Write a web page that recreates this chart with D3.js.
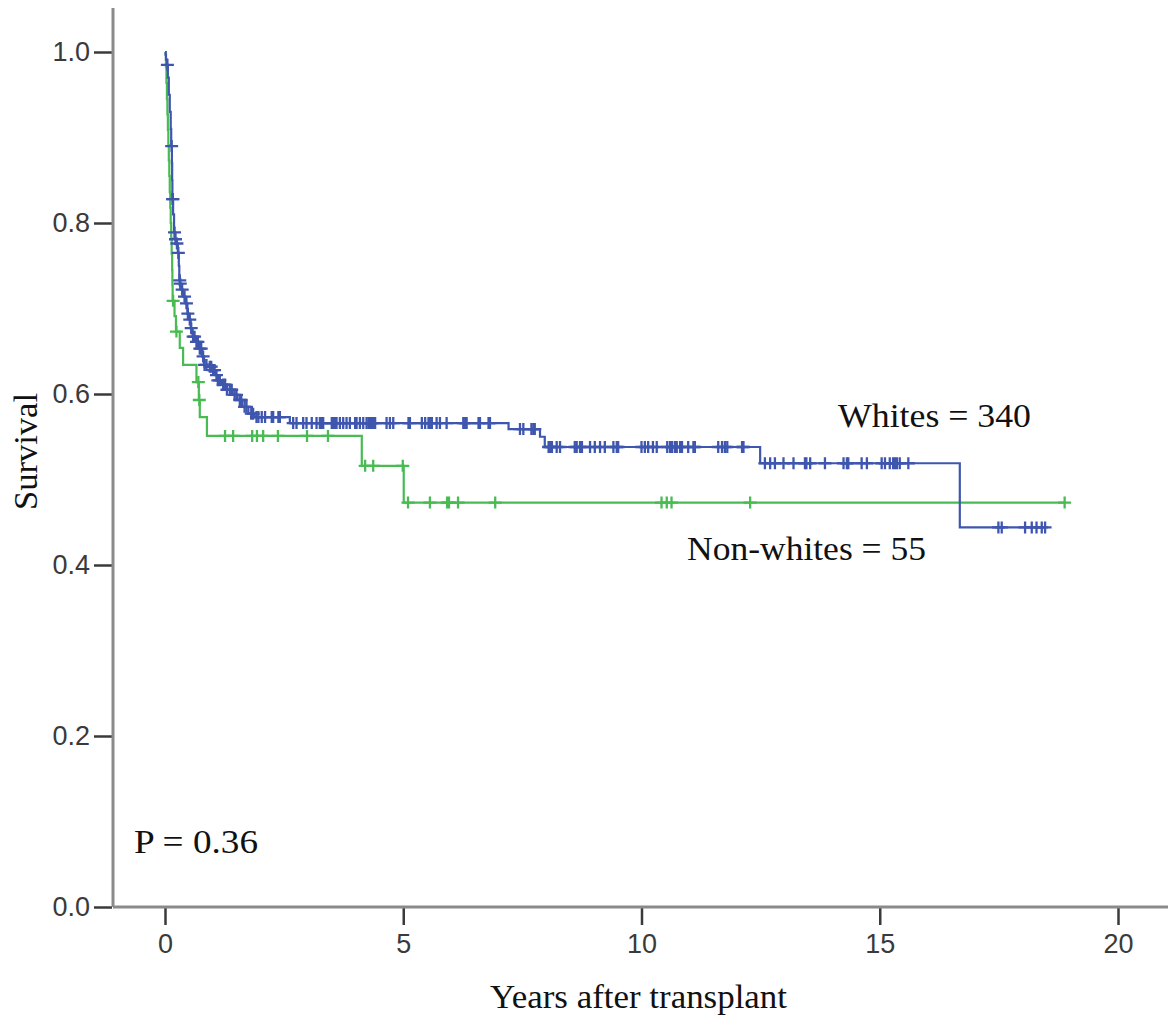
<!DOCTYPE html>
<html>
<head>
<meta charset="utf-8">
<script src="https://cdn.jsdelivr.net/npm/d3@7"></script>
<style>
  html, body { margin: 0; padding: 0; background: #fff; }
  svg { display: block; }
</style>
</head>
<body>
<svg id="chart" width="1176" height="1022"></svg>
<script>
// Kaplan–Meier survival after transplant, by race

// Axis ticks
const xTicks = [0, 5, 10, 15, 20];
const yTicks = [0.0, 0.2, 0.4, 0.6, 0.8, 1.0];

// Whites (n = 340): event times (years) and survival after each event
const whitesEventTime = [0.01, 0.02, 0.04, 0.06, 0.08, 0.10, 0.12, 0.13, 0.145, 0.15, 0.155,
  0.17, 0.19, 0.21, 0.24, 0.27, 0.29, 0.30, 0.315, 0.34, 0.38, 0.43, 0.47, 0.51, 0.54,
  0.58, 0.64, 0.71, 0.78, 0.82, 0.90, 0.98, 1.06, 1.10, 1.18, 1.30, 1.42, 1.52, 1.62,
  1.75, 1.88, 2.62, 7.21, 7.87, 7.97, 12.49, 16.68];
const whitesEventSurv = [0.997, 0.991, 0.985, 0.970, 0.950, 0.930, 0.910, 0.890, 0.870, 0.850, 0.828,
  0.810, 0.789, 0.781, 0.776, 0.765, 0.750, 0.733, 0.729, 0.722, 0.714, 0.706, 0.694, 0.687, 0.677,
  0.667, 0.661, 0.653, 0.644, 0.634, 0.632, 0.628, 0.622, 0.616, 0.611, 0.605, 0.599, 0.593, 0.585,
  0.577, 0.573, 0.566, 0.559, 0.550, 0.538, 0.519, 0.444];
// Whites: censored follow-up times (years)
const whitesCensored = [0.05, 0.14, 0.16, 0.165, 0.20, 0.22, 0.25, 0.28, 0.31, 0.32, 0.36, 0.41,
  0.45, 0.48, 0.52, 0.55, 0.59, 0.62, 0.66, 0.69, 0.73, 0.76, 0.80, 0.83, 0.87, 0.94, 0.97, 1.01,
  1.04, 1.08, 1.11, 1.15, 1.22, 1.26, 1.30, 1.36, 1.40, 1.46, 1.50, 1.57, 1.60, 1.67, 1.71, 1.81,
  1.85, 1.92, 1.96, 2.03, 2.10, 2.24, 2.27, 2.38, 2.41,
  2.69, 2.76, 2.90, 2.97, 3.08, 3.18, 3.25, 3.29, 3.32, 3.50, 3.53, 3.57, 3.60, 3.67, 3.74, 3.81,
  3.88, 3.99, 4.02, 4.09, 4.16, 4.23, 4.27, 4.30, 4.34, 4.37, 4.41, 4.65, 4.72, 4.79, 5.11, 5.14,
  5.39, 5.46, 5.53, 5.56, 5.60, 5.70, 5.77, 5.91, 6.26, 6.30, 6.33, 6.58, 6.61, 6.79, 6.82,
  7.45, 7.52, 7.69, 7.73, 7.76,
  8.05, 8.08, 8.12, 8.22, 8.29, 8.60, 8.64, 8.71, 8.75, 8.92, 9.02, 9.13, 9.23, 9.41, 9.48, 9.51,
  10.00, 10.07, 10.14, 10.24, 10.32, 10.54, 10.60, 10.64, 10.70, 10.74, 10.81, 10.85, 10.98, 11.09,
  11.12, 11.61, 11.69, 11.75, 11.80, 12.11, 12.14,
  12.59, 12.70, 12.80, 12.98, 13.19, 13.43, 13.46, 13.54, 13.85, 14.24, 14.31, 14.34, 14.62,
  14.73, 15.04, 15.11, 15.21, 15.28, 15.32, 15.36, 15.42, 15.60,
  17.49, 17.56, 18.05, 18.19, 18.29, 18.40, 18.47];

// Non-whites (n = 55): event times (years) and survival after each event
const nonWhitesEventTime = [0.02, 0.03, 0.04, 0.05, 0.06, 0.07, 0.08, 0.09, 0.10, 0.11, 0.12,
  0.13, 0.14, 0.15, 0.155, 0.16, 0.20, 0.23, 0.31, 0.38, 0.66, 0.71, 0.73, 0.88, 4.13, 5.01];
const nonWhitesEventSurv = [0.982, 0.964, 0.945, 0.927, 0.909, 0.891, 0.873, 0.855, 0.836, 0.818, 0.800,
  0.782, 0.764, 0.745, 0.727, 0.709, 0.691, 0.673, 0.654, 0.634, 0.614, 0.593, 0.573, 0.551, 0.516, 0.473];
// Non-whites: censored follow-up times (years)
const nonWhitesCensored = [0.17, 0.24, 0.70, 0.72, 1.26, 1.43, 1.83, 1.93, 2.06, 2.37, 2.98, 3.42,
  4.20, 4.37, 4.99, 5.10, 5.56, 5.92, 5.96, 6.15, 6.93, 10.42, 10.53, 10.63, 12.28, 18.88];

const groups = [
  { name: "Whites", time: whitesEventTime, surv: whitesEventSurv, cens: whitesCensored, color: "#3f56ae" },
  { name: "Non-whites", time: nonWhitesEventTime, surv: nonWhitesEventSurv, cens: nonWhitesCensored, color: "#48bc52" }
];

const svg = d3.select("#chart");

const x = d3.scaleLinear().domain([0, 20]).range([165, 1118]);
const y = d3.scaleLinear().domain([0, 1]).range([907, 52]);

const axisLeftX = 113, axisBottomY = 907;

// Axis ticks and labels
const xAxis = d3.axisBottom(x).tickValues(xTicks).tickFormat(d3.format("d")).tickSize(18).tickPadding(9);
const gx = svg.append("g").attr("transform", `translate(0,${axisBottomY})`).call(xAxis);
gx.select(".domain").remove();
gx.selectAll(".tick line").attr("stroke", "#3a3a3a").attr("stroke-width", 2.5);
gx.selectAll(".tick text")
  .attr("font-family", "'Liberation Sans', Arial, sans-serif")
  .attr("font-size", 27).attr("fill", "#3a3a3a");

const yAxis = d3.axisLeft(y).tickValues(yTicks).tickFormat(d3.format(".1f")).tickSize(18).tickPadding(4);
const gy = svg.append("g").attr("transform", `translate(${axisLeftX - 1},0)`).call(yAxis);
gy.select(".domain").remove();
gy.selectAll(".tick line").attr("stroke", "#3a3a3a").attr("stroke-width", 2.5);
gy.selectAll(".tick text")
  .attr("font-family", "'Liberation Sans', Arial, sans-serif")
  .attr("font-size", 27).attr("fill", "#3a3a3a");

// Axis lines (grey frame on left and bottom)
svg.append("line").attr("x1", axisLeftX).attr("x2", axisLeftX).attr("y1", 8).attr("y2", axisBottomY)
  .attr("stroke", "#8a8a8a").attr("stroke-width", 3);
svg.append("line").attr("x1", axisLeftX).attr("x2", 1168).attr("y1", axisBottomY).attr("y2", axisBottomY)
  .attr("stroke", "#8a8a8a").attr("stroke-width", 3);

// Survival curves
const line = d3.line().x(d => x(d[0])).y(d => y(d[1])).curve(d3.curveStepAfter);

function survAt(g, t) {
  const i = d3.bisectRight(g.time, t);
  return i === 0 ? 1 : g.surv[i - 1];
}

groups.slice().reverse().forEach(g => {
  const end = Math.max(d3.max(g.cens), d3.max(g.time));
  const pts = [[0, 1]].concat(g.time.map((t, i) => [t, g.surv[i]]));
  pts.push([end, survAt(g, end)]);
  svg.append("path").datum(pts)
    .attr("d", line).attr("fill", "none")
    .attr("stroke", g.color).attr("stroke-width", 2.2);

  // Censoring marks drawn as "+"
  const armX = 6.5, armY = 6;
  svg.append("g").selectAll("path").data(g.cens).join("path")
    .attr("d", t => {
      const cx = x(t), cy = y(survAt(g, t));
      return `M${cx - armX},${cy}H${cx + armX}M${cx},${cy - armY}V${cy + armY}`;
    })
    .attr("stroke", g.color).attr("stroke-width", 2.3).attr("fill", "none");
});

// Text annotations
const serif = "'Liberation Serif', 'Times New Roman', serif";
function label(txt, x0, yb, len, size) {
  return svg.append("text").attr("x", x0).attr("y", yb).text(txt)
    .attr("font-family", serif).attr("font-size", size).attr("fill", "#111")
    .attr("textLength", len).attr("lengthAdjust", "spacingAndGlyphs");
}
label("Whites = 340", 838, 427, 193, 33);
label("Non-whites = 55", 687, 560, 239, 33);
label("P = 0.36", 134, 853, 124, 33);
label("Years after transplant", 490, 1008, 297, 33);

svg.append("text")
  .attr("transform", "translate(37,510) rotate(-90)")
  .text("Survival")
  .attr("font-family", serif).attr("font-size", 33).attr("fill", "#111")
  .attr("textLength", 117).attr("lengthAdjust", "spacingAndGlyphs");
</script>
</body>
</html>
